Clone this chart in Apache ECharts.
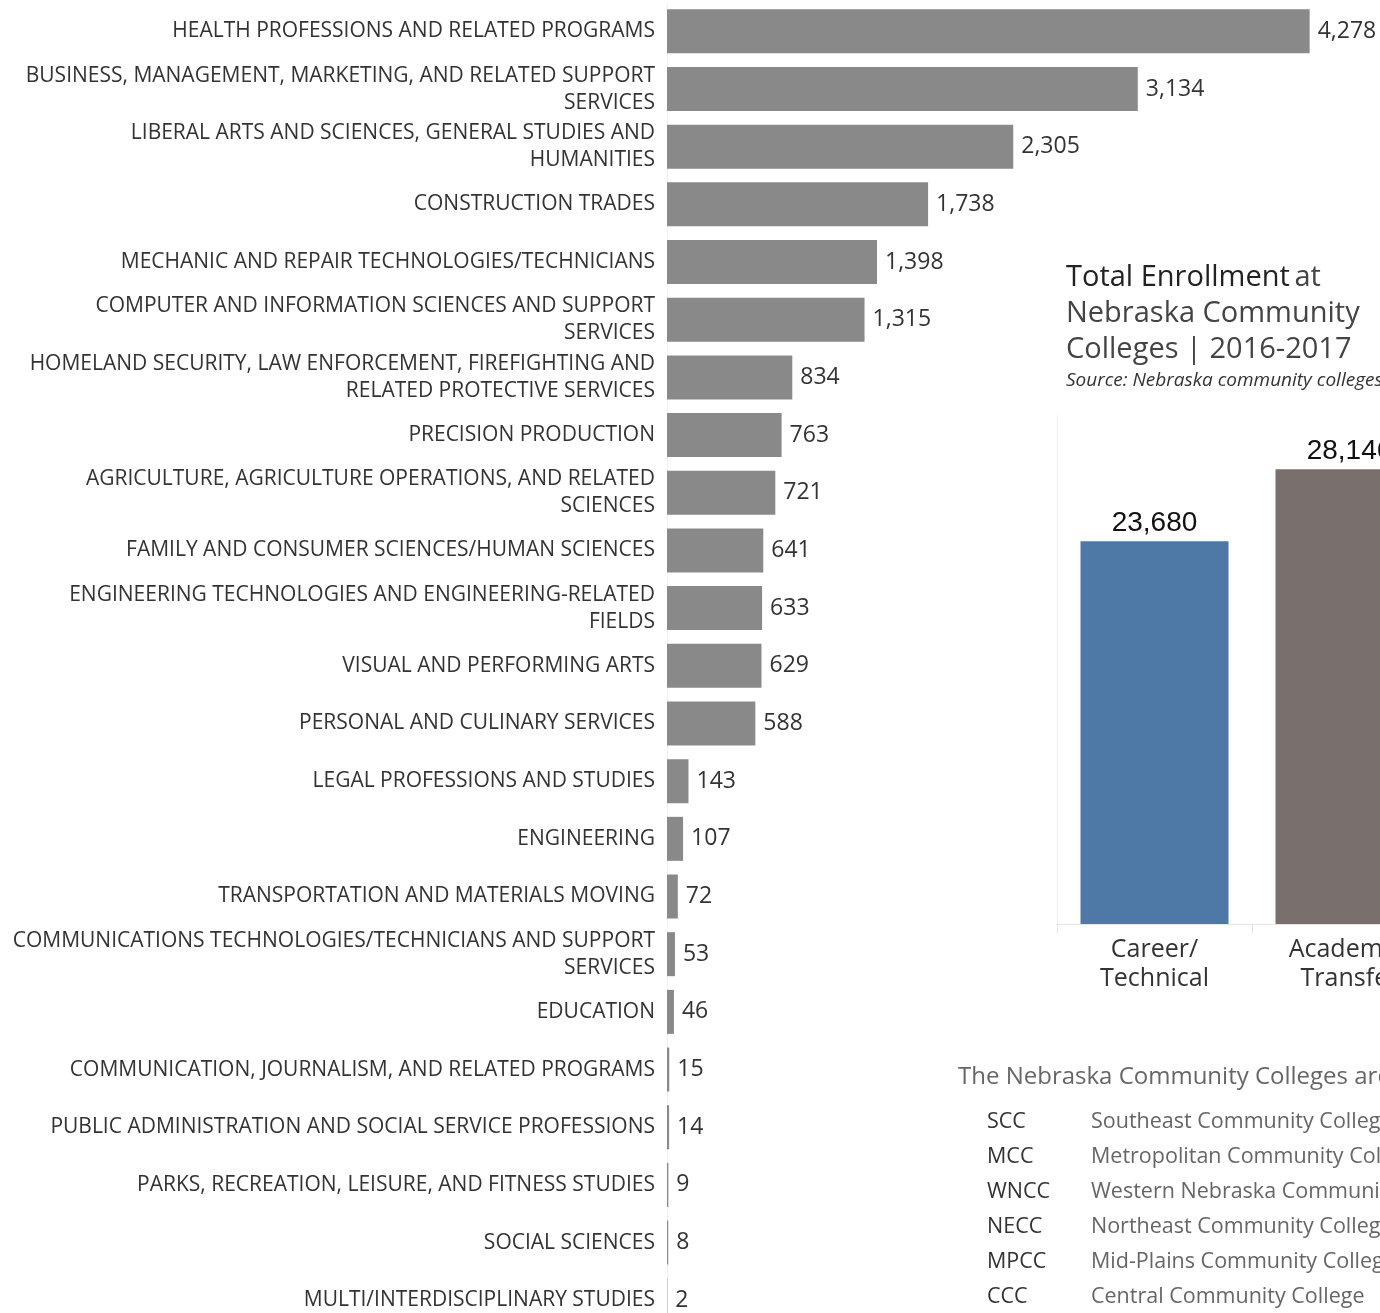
<!DOCTYPE html>
<html><head><meta charset="utf-8">
<script src="https://cdn.jsdelivr.net/npm/echarts@6/dist/echarts.min.js"></script>
<style>html,body{margin:0;padding:0;overflow:hidden;background:#fff;width:1380px;height:1313px}#c{width:1600px;height:1340px}</style>
</head><body><div id="c"></div>
<script>
const programs = [
 "HEALTH PROFESSIONS AND RELATED PROGRAMS",
 "BUSINESS, MANAGEMENT, MARKETING, AND RELATED SUPPORT\nSERVICES",
 "LIBERAL ARTS AND SCIENCES, GENERAL STUDIES AND\nHUMANITIES",
 "CONSTRUCTION TRADES",
 "MECHANIC AND REPAIR TECHNOLOGIES/TECHNICIANS",
 "COMPUTER AND INFORMATION SCIENCES AND SUPPORT\nSERVICES",
 "HOMELAND SECURITY, LAW ENFORCEMENT, FIREFIGHTING AND\nRELATED PROTECTIVE SERVICES",
 "PRECISION PRODUCTION",
 "AGRICULTURE, AGRICULTURE OPERATIONS, AND RELATED\nSCIENCES",
 "FAMILY AND CONSUMER SCIENCES/HUMAN SCIENCES",
 "ENGINEERING TECHNOLOGIES AND ENGINEERING-RELATED\nFIELDS",
 "VISUAL AND PERFORMING ARTS",
 "PERSONAL AND CULINARY SERVICES",
 "LEGAL PROFESSIONS AND STUDIES",
 "ENGINEERING",
 "TRANSPORTATION AND MATERIALS MOVING",
 "COMMUNICATIONS TECHNOLOGIES/TECHNICIANS AND SUPPORT\nSERVICES",
 "EDUCATION",
 "COMMUNICATION, JOURNALISM, AND RELATED PROGRAMS",
 "PUBLIC ADMINISTRATION AND SOCIAL SERVICE PROFESSIONS",
 "PARKS, RECREATION, LEISURE, AND FITNESS STUDIES",
 "SOCIAL SCIENCES",
 "MULTI/INTERDISCIPLINARY STUDIES"
];
const programValues = [4278,3134,2305,1738,1398,1315,834,763,721,641,633,629,588,143,107,72,53,46,15,14,9,8,2];

const enrollCategories = ["Career/\nTechnical", "Academic/\nTransfer"];
const enrollValues = [23680, 28146];
const enrollColors = ["#4e79a7", "#79706e"];

const collegeAbbr = ["SCC","MCC","WNCC","NECC","MPCC","CCC"];
const collegeNames = ["Southeast Community College","Metropolitan Community College","Western Nebraska Community College","Northeast Community College","Mid-Plains Community College","Central Community College"];

const FONT = "Open Sans";
const fmt = v => v.toLocaleString('en-US');

const chart = echarts.init(document.getElementById('c'), null, {renderer:'canvas'});

const graphics = [{
  type:'text', x:958, y:1077,
  style:{text:"The Nebraska Community Colleges are:", fill:'#666', font:'24px "'+FONT+'"', verticalAlign:'middle'}
}];
collegeAbbr.forEach((a,i)=>{
  graphics.push({type:'text', x:987, y:1122+i*35, style:{text:a, fill:'#333', font:'21.5px "'+FONT+'"', verticalAlign:'middle'}});
  graphics.push({type:'text', x:1091, y:1122+i*35, style:{text:collegeNames[i], fill:'#666', font:'21.5px "'+FONT+'"', verticalAlign:'middle'}});
});

chart.setOption({
  animation:false,
  textStyle:{fontFamily:FONT},
  title:[
    {left:1061, top:255, text:'{b|Total Enrollment} {n|at}\n{n|Nebraska Community}\n{n|Colleges | 2016-2017}',
     textStyle:{fontWeight:'normal',rich:{b:{fontSize:29,color:'#222',fontFamily:FONT,fontWeight:500,lineHeight:36},n:{fontSize:29,color:'#444',fontFamily:FONT,fontWeight:'normal',lineHeight:36}}}},
    {left:1061, top:366, text:'Source: Nebraska community colleges',
     textStyle:{fontSize:19,fontStyle:'italic',color:'#333',fontWeight:'normal',fontFamily:FONT}}
  ],
  graphic:graphics,
  grid:[
    {left:667, top:2.5, width:676, height:1326.6, containLabel:false, outerBoundsMode:'none'},
    {left:1057, top:415, width:390, height:509, containLabel:false, outerBoundsMode:'none'}
  ],
  xAxis:[
    {gridIndex:0, type:'value', min:0, max:4500, show:false},
    {gridIndex:1, type:'category', data:enrollCategories,
     axisLine:{lineStyle:{color:'#e6e6e6'}}, axisTick:{show:true,length:10,lineStyle:{color:'#e6e6e6'}},
     axisLabel:{fontSize:25,color:'#333',lineHeight:29,margin:11,fontFamily:FONT}}
  ],
  yAxis:[
    {gridIndex:0, type:'category', data:programs, inverse:true,
     axisLine:{show:true,lineStyle:{color:'#f0f0f0'}}, axisTick:{show:false},
     axisLabel:{fontSize:21,color:'#333',lineHeight:27,margin:12,align:'right',fontFamily:FONT}},
    {gridIndex:1, type:'value', min:0, max:31500, axisLabel:{show:false}, splitLine:{show:false},
     axisTick:{show:false}, axisLine:{show:true,lineStyle:{color:'#f0f0f0'}}}
  ],
  series:[
    {type:'bar', xAxisIndex:0, yAxisIndex:0, data:programValues, barWidth:44,
     itemStyle:{color:'#898989'},
     label:{show:true, position:'right', distance:8, fontSize:23, color:'#333', fontFamily:FONT, formatter:p=>fmt(p.value)}},
    {type:'bar', xAxisIndex:1, yAxisIndex:1, barWidth:148,
     data:enrollValues.map((v,i)=>({value:v,itemStyle:{color:enrollColors[i]}})),
     label:{show:true, position:'top', distance:4, fontSize:28, color:'#111', fontFamily:'Liberation Sans', formatter:p=>fmt(p.value)}}
  ]
});
</script></body></html>
